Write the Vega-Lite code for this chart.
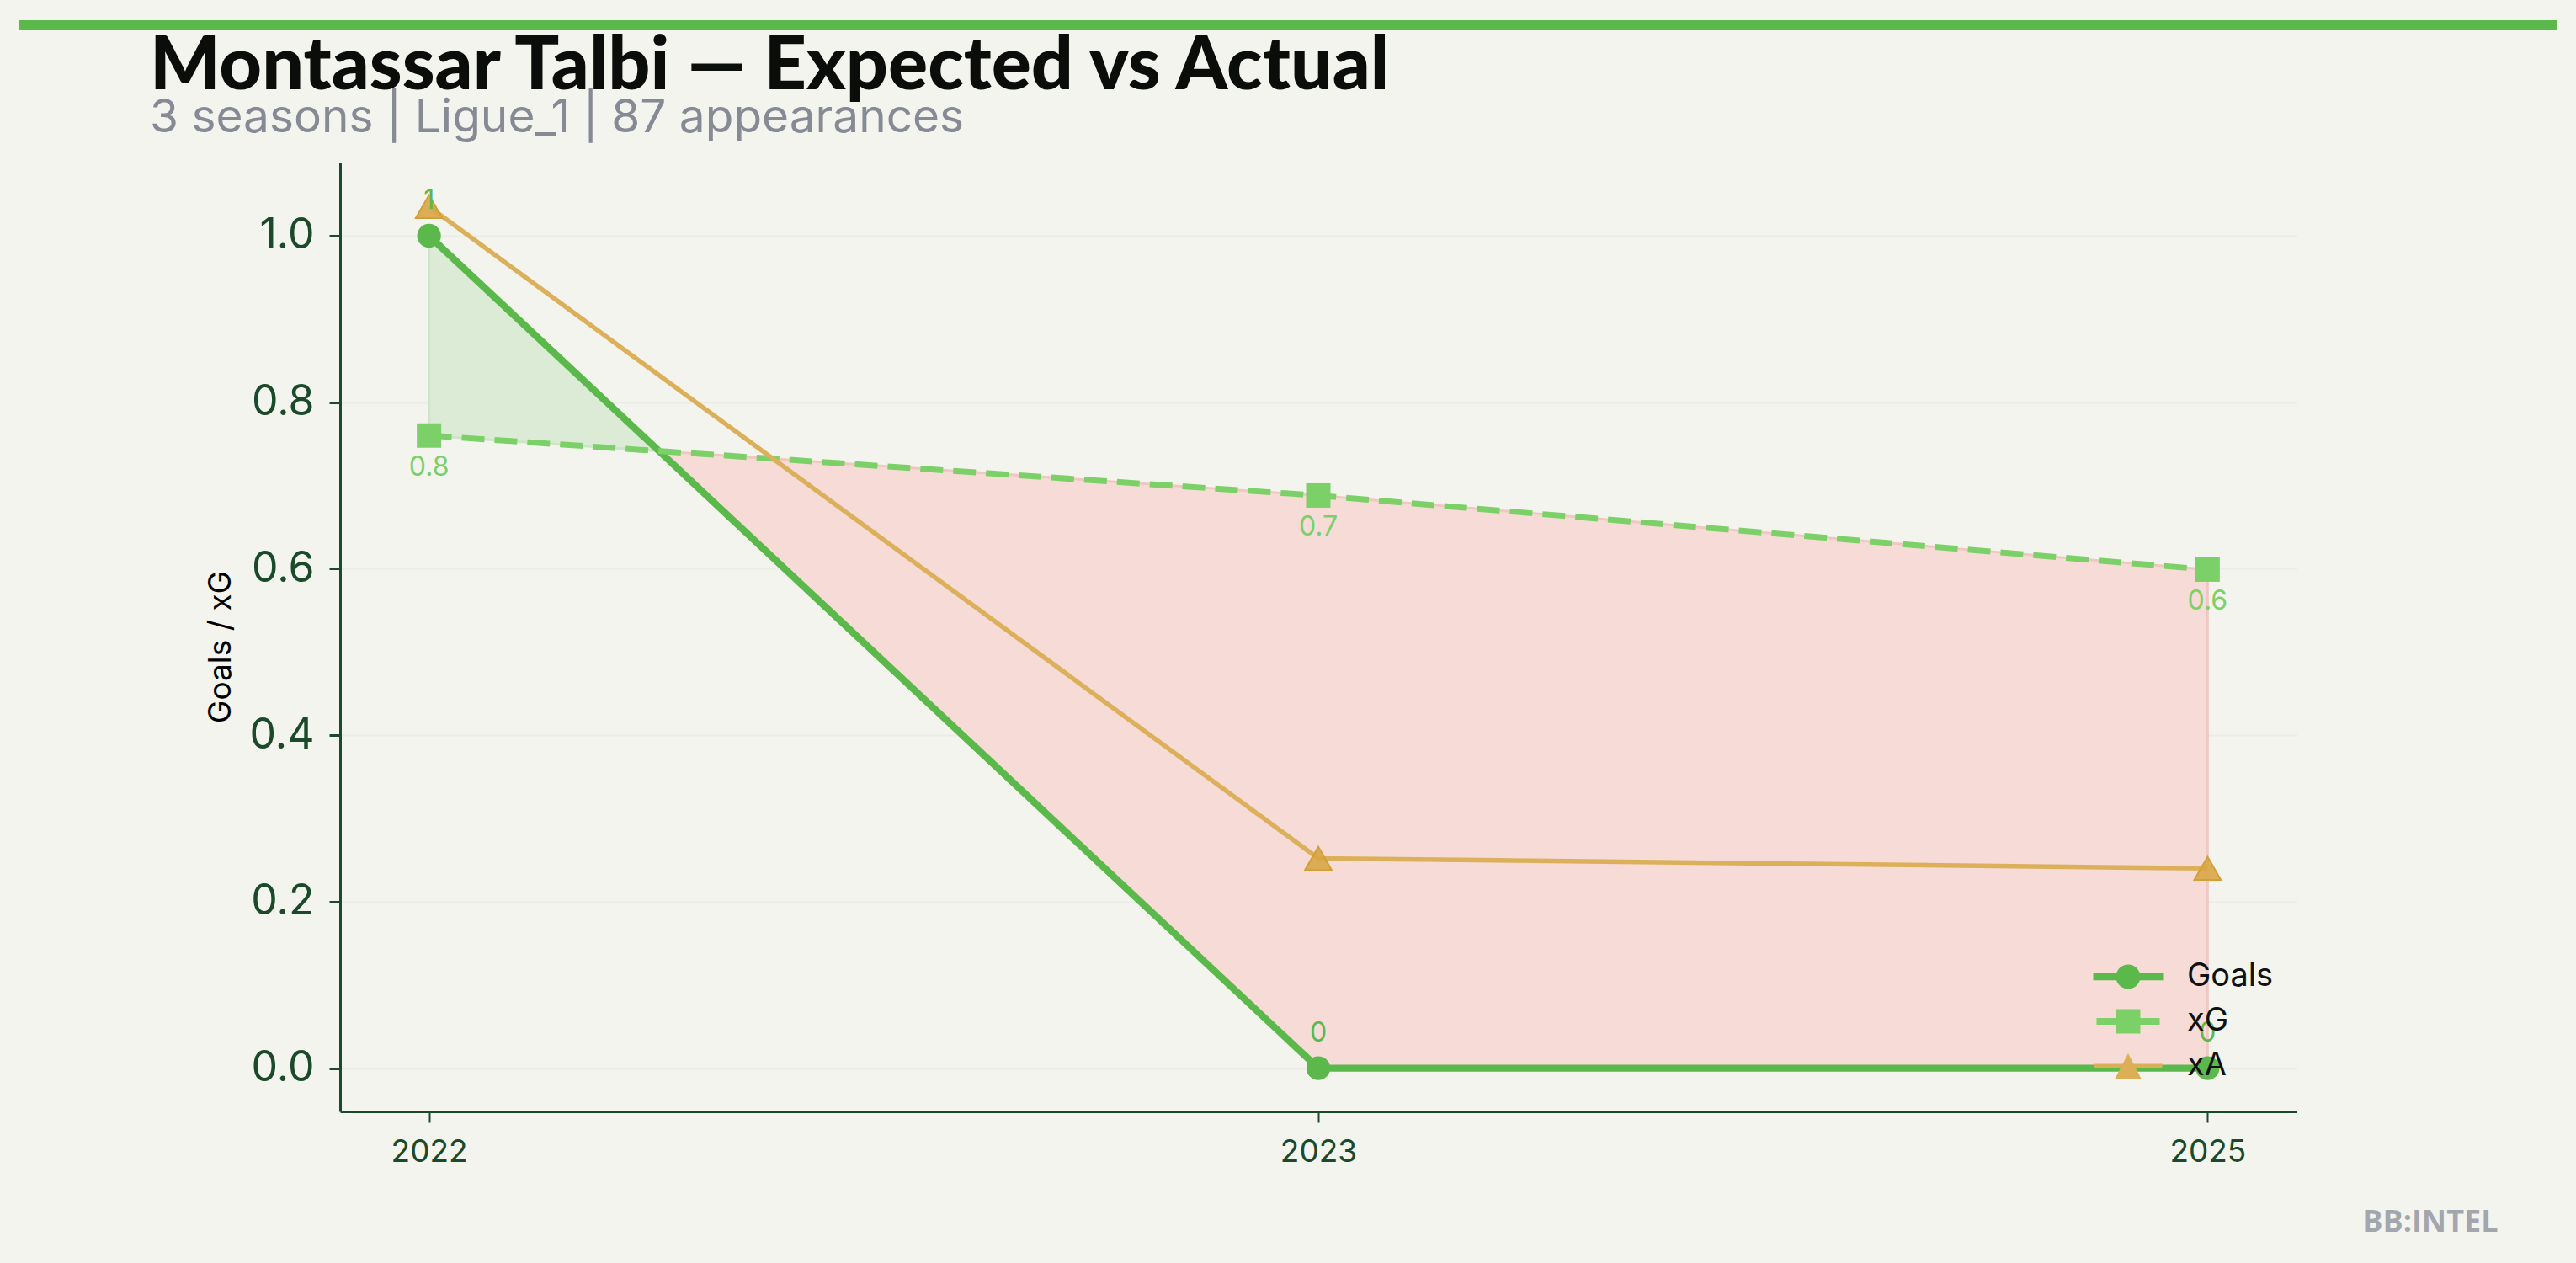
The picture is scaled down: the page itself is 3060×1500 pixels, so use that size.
{
  "$schema": "https://vega.github.io/schema/vega-lite/v6.json",
  "width": 2324,
  "height": 1127,
  "autosize": {"type": "none"},
  "padding": {"left": 404, "top": 193, "right": 332, "bottom": 180},
  "background": "#f4f4ef",
  "title": {
    "text": "Montassar Talbi — Expected vs Actual",
    "subtitle": "3 seasons | Ligue_1 | 87 appearances",
    "anchor": "start",
    "frame": "group",
    "dx": -226,
    "offset": -144,
    "font": "Lato",
    "fontWeight": 900,
    "fontSize": 88,
    "color": "#0a0d0a",
    "subtitleFont": "Inter",
    "subtitleFontSize": 55,
    "subtitleColor": "#868a94",
    "subtitlePadding": -10
  },
  "config": {
    "view": {"stroke": null},
    "axis": {
      "domainColor": "#1b4a2a",
      "tickColor": "#1b4a2a",
      "labelColor": "#1b4a2a",
      "labelFont": "Inter",
      "titleFont": "Inter",
      "titleFontWeight": "normal"
    },
    "legend": {
      "orient": "none",
      "legendX": 2104,
      "legendY": 947,
      "padding": 0,
      "symbolSize": 1600,
      "rowPadding": 14,
      "labelOffset": 50,
      "labelFontSize": 38,
      "labelFont": "Inter",
      "labelColor": "#111111",
      "symbolOpacity": 1,
      "symbolStrokeWidth": 0
    }
  },
  "datasets": {
    "series": [
      {"season": "2022", "i": 0, "metric": "Goals", "value": 1},
      {"season": "2023", "i": 1, "metric": "Goals", "value": 0},
      {"season": "2025", "i": 2, "metric": "Goals", "value": 0},
      {"season": "2022", "i": 0, "metric": "xG", "value": 0.76},
      {"season": "2023", "i": 1, "metric": "xG", "value": 0.688},
      {"season": "2025", "i": 2, "metric": "xG", "value": 0.599},
      {"season": "2022", "i": 0, "metric": "xA", "value": 1.035},
      {"season": "2023", "i": 1, "metric": "xA", "value": 0.252},
      {"season": "2025", "i": 2, "metric": "xA", "value": 0.24}
    ],
    "gap": [
      {"i": 0, "lo": 0.76, "hi": 1, "side": "over"},
      {"i": 0.2586, "lo": 0.7414, "hi": 0.7414, "side": "over"},
      {"i": 0.2586, "lo": 0.7414, "hi": 0.7414, "side": "under"},
      {"i": 1, "lo": 0, "hi": 0.688, "side": "under"},
      {"i": 2, "lo": 0, "hi": 0.599, "side": "under"}
    ]
  },
  "layer": [
    {
      "encoding": {
        "x": {
          "field": "i",
          "type": "quantitative",
          "scale": {"domain": [-0.1, 2.1], "nice": false, "zero": false},
          "axis": {
            "values": [0, 1, 2],
            "labelExpr": "['2022','2023','2025'][datum.value]",
            "labelFontSize": 37,
            "tickSize": 13,
            "tickWidth": 2,
            "domainWidth": 3,
            "labelPadding": 17,
            "grid": false,
            "title": "BB:INTEL",
            "titleFont": "Open Sans",
            "titleFontWeight": "bold",
            "titleFontSize": 36,
            "titleColor": "#a3a6ad",
            "titleAlign": "right",
            "titleBaseline": "alphabetic",
            "titleX": 2563,
            "titleY": 142
          }
        },
        "y": {
          "field": "value",
          "type": "quantitative",
          "scale": {"domain": [-0.052, 1.088], "nice": false, "zero": false},
          "axis": {
            "values": [0, 0.2, 0.4, 0.6, 0.8, 1.0],
            "format": ".1f",
            "labelFontSize": 50,
            "tickSize": 13,
            "tickWidth": 3,
            "domainWidth": 3,
            "labelPadding": 18,
            "grid": true,
            "gridColor": "#ebece5",
            "gridWidth": 2,
            "title": "Goals / xG",
            "titleFontSize": 37,
            "titleColor": "#000000",
            "titleAngle": 270,
            "titleAlign": "center",
            "titleBaseline": "alphabetic",
            "titleX": -131,
            "titleY": 575
          }
        }
      },
      "layer": [
        {
          "data": {"name": "gap"},
          "transform": [{"filter": "datum.side == 'over'"}],
          "mark": {"type": "area", "color": "#dcebd6", "stroke": "#cfe4c8", "strokeWidth": 3},
          "encoding": {
            "y": {"field": "hi", "type": "quantitative"},
            "y2": {"field": "lo"}
          }
        },
        {
          "data": {"name": "gap"},
          "transform": [{"filter": "datum.side == 'under'"}],
          "mark": {"type": "area", "color": "#f6dbd6", "stroke": "#f1c8c1", "strokeWidth": 3},
          "encoding": {
            "y": {"field": "hi", "type": "quantitative"},
            "y2": {"field": "lo"}
          }
        },
        {
          "data": {"name": "series"},
          "mark": {"type": "point", "filled": true, "opacity": 0},
          "encoding": {
            "color": {
              "field": "metric",
              "type": "nominal",
              "scale": {"domain": ["Goals", "xG", "xA"], "range": ["#5ab94a", "#7bd167", "#dcae55"]},
              "legend": {"title": null}
            },
            "shape": {
              "field": "metric",
              "type": "nominal",
              "scale": {
                "domain": ["Goals", "xG", "xA"],
                "range": [
                  "M-2.075,-0.2075H2.075V0.2075H-2.075Z M-0.725,0A0.725,0.725,0,1,1,0.725,0A0.725,0.725,0,1,1,-0.725,0Z",
                  "M-1.875,-0.2H1.875V0.2H-1.875Z M-0.725,-0.725H0.725V0.725H-0.725Z",
                  "M-2.025,-0.13H2.025V0.13H-2.025Z M0,-0.75L0.775,0.75L-0.775,0.75Z"
                ]
              },
              "legend": {"title": null}
            }
          }
        },
        {
          "data": {"name": "series"},
          "transform": [{"filter": "datum.metric == 'Goals'"}],
          "mark": {"type": "line", "color": "#5ab94a", "strokeWidth": 8.3}
        },
        {
          "data": {"name": "series"},
          "transform": [{"filter": "datum.metric == 'Goals'"}],
          "mark": {"type": "point", "shape": "circle", "filled": true, "color": "#5ab94a", "opacity": 1, "size": 800}
        },
        {
          "data": {"name": "series"},
          "transform": [{"filter": "datum.metric == 'xG'"}],
          "mark": {"type": "line", "color": "#7bd167", "strokeWidth": 7, "strokeDash": [27, 12]}
        },
        {
          "data": {"name": "series"},
          "transform": [{"filter": "datum.metric == 'xG'"}],
          "mark": {"type": "point", "shape": "square", "filled": true, "color": "#7bd167", "opacity": 1, "size": 841}
        },
        {
          "data": {"name": "series"},
          "transform": [{"filter": "datum.metric == 'xA'"}],
          "mark": {"type": "line", "color": "#dcb05a", "strokeWidth": 5.5}
        },
        {
          "data": {"name": "series"},
          "transform": [{"filter": "datum.metric == 'xA'"}],
          "mark": {"type": "point", "shape": "triangle-up", "filled": true, "fill": "#d9a646", "fillOpacity": 0.9, "stroke": "#d49f36", "strokeWidth": 2, "opacity": 1, "size": 1000}
        },
        {
          "data": {"name": "series"},
          "transform": [{"filter": "datum.metric == 'Goals'"}],
          "mark": {"type": "text", "font": "Inter", "fontSize": 32, "color": "#5ab94a", "baseline": "alphabetic", "dy": -32},
          "encoding": {"text": {"field": "value", "type": "quantitative", "format": ".0f"}}
        },
        {
          "data": {"name": "series"},
          "transform": [{"filter": "datum.metric == 'xG'"}],
          "mark": {"type": "text", "font": "Inter", "fontSize": 32, "color": "#7bd167", "baseline": "alphabetic", "dy": 48},
          "encoding": {"text": {"field": "value", "type": "quantitative", "format": ".1f"}}
        }
      ]
    },
    {
      "data": {"values": [{"band": "top"}]},
      "mark": {"type": "rule", "color": "#5ab94a", "strokeWidth": 12, "clip": false},
      "encoding": {
        "x": {"datum": -0.4607, "type": "quantitative"},
        "x2": {"datum": 2.3925},
        "y": {"datum": 1.2529, "type": "quantitative"}
      }
    }
  ]
}
